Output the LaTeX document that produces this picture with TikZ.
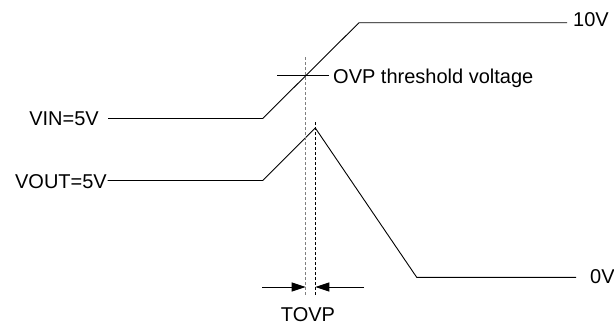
\documentclass[tikz,border=0pt]{standalone}
\usepackage{fontspec}
\setmainfont{Liberation Sans}
\usetikzlibrary{arrows.meta}
\begin{document}
\begin{tikzpicture}[x=1pt,y=-1pt,
  wave/.style={line width=0.9pt, line join=miter},
  lbl/.style={inner sep=0pt, font=\fontsize{20}{24}\selectfont},
  guide/.style={line width=0.8pt, dash pattern=on 3pt off 2pt},
  dimarrow/.style={line width=0.9pt, -{Triangle[length=14pt,width=9pt]}}]
\useasboundingbox (0,0) rectangle (614,324);
% VIN waveform
\coordinate (vinL) at (108,118.5);
\coordinate (vinA) at (262.7,118.5);
\coordinate (vinB) at (359,22.7);
\coordinate (vinR) at (567,22.7);
\node[lbl, anchor=base east] (vinlbl) at (99,125.5) {VIN=5V};
\node[lbl, anchor=base west] (tenv) at (573,27) {10V};
\draw[wave] (vinL) -- (vinA) -- (vinB) -- (vinR);
% VOUT waveform
\coordinate (voL) at (107.5,180.5);
\coordinate (voA) at (262.7,180.5);
\coordinate (voP) at (315.3,128);
\coordinate (voB) at (416.7,277.3);
\coordinate (voR) at (576,277.3);
\node[lbl, anchor=base east] (voutlbl) at (107,188) {VOUT=5V};
\node[lbl, anchor=base west] (zerov) at (590,283.5) {0V};
\draw[wave] (voL) -- (voA) -- (voP) -- (voB) -- (voR);
% threshold crosshair
\coordinate (thL) at (277,75);
\coordinate (thR) at (329,75);
\node[lbl, anchor=base west] (thlbl) at (333,83) {OVP threshold voltage};
\draw[wave] (thL) -- (thR);
% guide lines
\coordinate (g1T) at (305.7,57);
\coordinate (g1B) at (305.7,296);
\coordinate (g2T) at (315.3,122);
\coordinate (g2B) at (315.3,296);
\draw[guide, draw=black!50] (g1T) -- (g1B);
\draw[guide, draw=black] (g2T) -- (g2B);
% TOVP dimension
\coordinate (aL) at (262,287);
\coordinate (aLt) at (305.7,287);
\coordinate (aR) at (364,287);
\coordinate (aRt) at (315.3,287);
\draw[dimarrow] (aL) -- (aLt);
\draw[dimarrow] (aR) -- (aRt);
\node[lbl, anchor=base] (tovp) at (308,321) {TOVP};
\end{tikzpicture}
\end{document}
